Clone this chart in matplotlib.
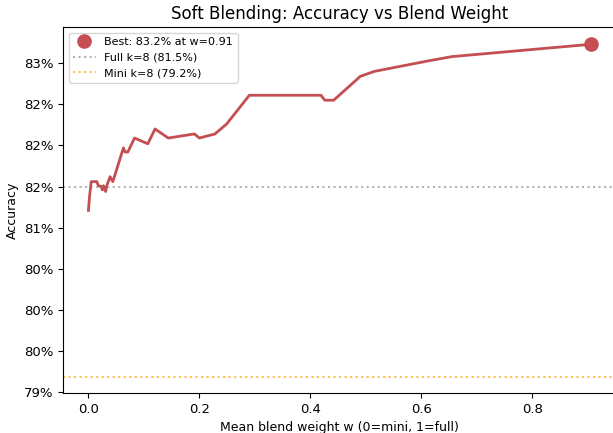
import matplotlib
matplotlib.use("Agg")
import matplotlib.pyplot as plt
from matplotlib.ticker import FuncFormatter, MultipleLocator

# Mean blend weight w and accuracy
blend_w = [0.000, 0.002, 0.005, 0.015, 0.018, 0.023, 0.025, 0.027, 0.031, 0.033,
           0.039, 0.044, 0.063, 0.066, 0.071, 0.083, 0.107, 0.120, 0.144, 0.191,
           0.200, 0.228, 0.249, 0.290, 0.419, 0.426, 0.442, 0.490, 0.515, 0.614,
           0.655, 0.906]
accuracy = [0.8121, 0.8138, 0.8156, 0.8156, 0.8151, 0.8150, 0.8146, 0.8151, 0.8144, 0.8151,
            0.8162, 0.8156, 0.8197, 0.8192, 0.8192, 0.8209, 0.8202, 0.8220, 0.8209, 0.8214,
            0.8209, 0.8214, 0.8226, 0.8261, 0.8261, 0.8255, 0.8255, 0.8284, 0.8290, 0.8303,
            0.8308, 0.8323]

full_acc = 0.815
mini_acc = 0.7919
best_w = 0.906
best_acc = 0.8323

fig = plt.figure(figsize=(6.13, 4.33), dpi=100)
ax = fig.add_axes([63.3 / 613, 40 / 433, 553 / 613, 366 / 433])

red = "#C44E52"
ax.plot(blend_w, accuracy, color=red, linewidth=2)
ax.plot([best_w], [best_acc], "o", color=red, markersize=9.5,
        label=f"Best: {best_acc*100:.1f}% at w={best_w:.2f}", zorder=5)
ax.axhline(full_acc, color="gray", linestyle=":", alpha=0.6,
           label=f"Full k=8 ({full_acc*100:.1f}%)")
ax.axhline(mini_acc, color="orange", linestyle=":", alpha=0.7,
           label=f"Mini k=8 ({mini_acc*100:.1f}%)")

ax.set_xlim(-0.0453, 0.9513)
ax.set_ylim(0.7899, 0.8344)
ax.yaxis.set_major_locator(MultipleLocator(0.005))
ax.yaxis.set_major_formatter(FuncFormatter(lambda y, _: f"{y:.0%}"))
ax.tick_params(labelsize=9.5)

ax.set_title("Soft Blending: Accuracy vs Blend Weight", fontsize=12)
ax.set_xlabel("Mean blend weight w (0=mini, 1=full)", fontsize=9)
ax.set_ylabel("Accuracy", fontsize=9)
ax.legend(loc="upper left", fontsize=8)

fig.savefig("out.png", dpi=100)
